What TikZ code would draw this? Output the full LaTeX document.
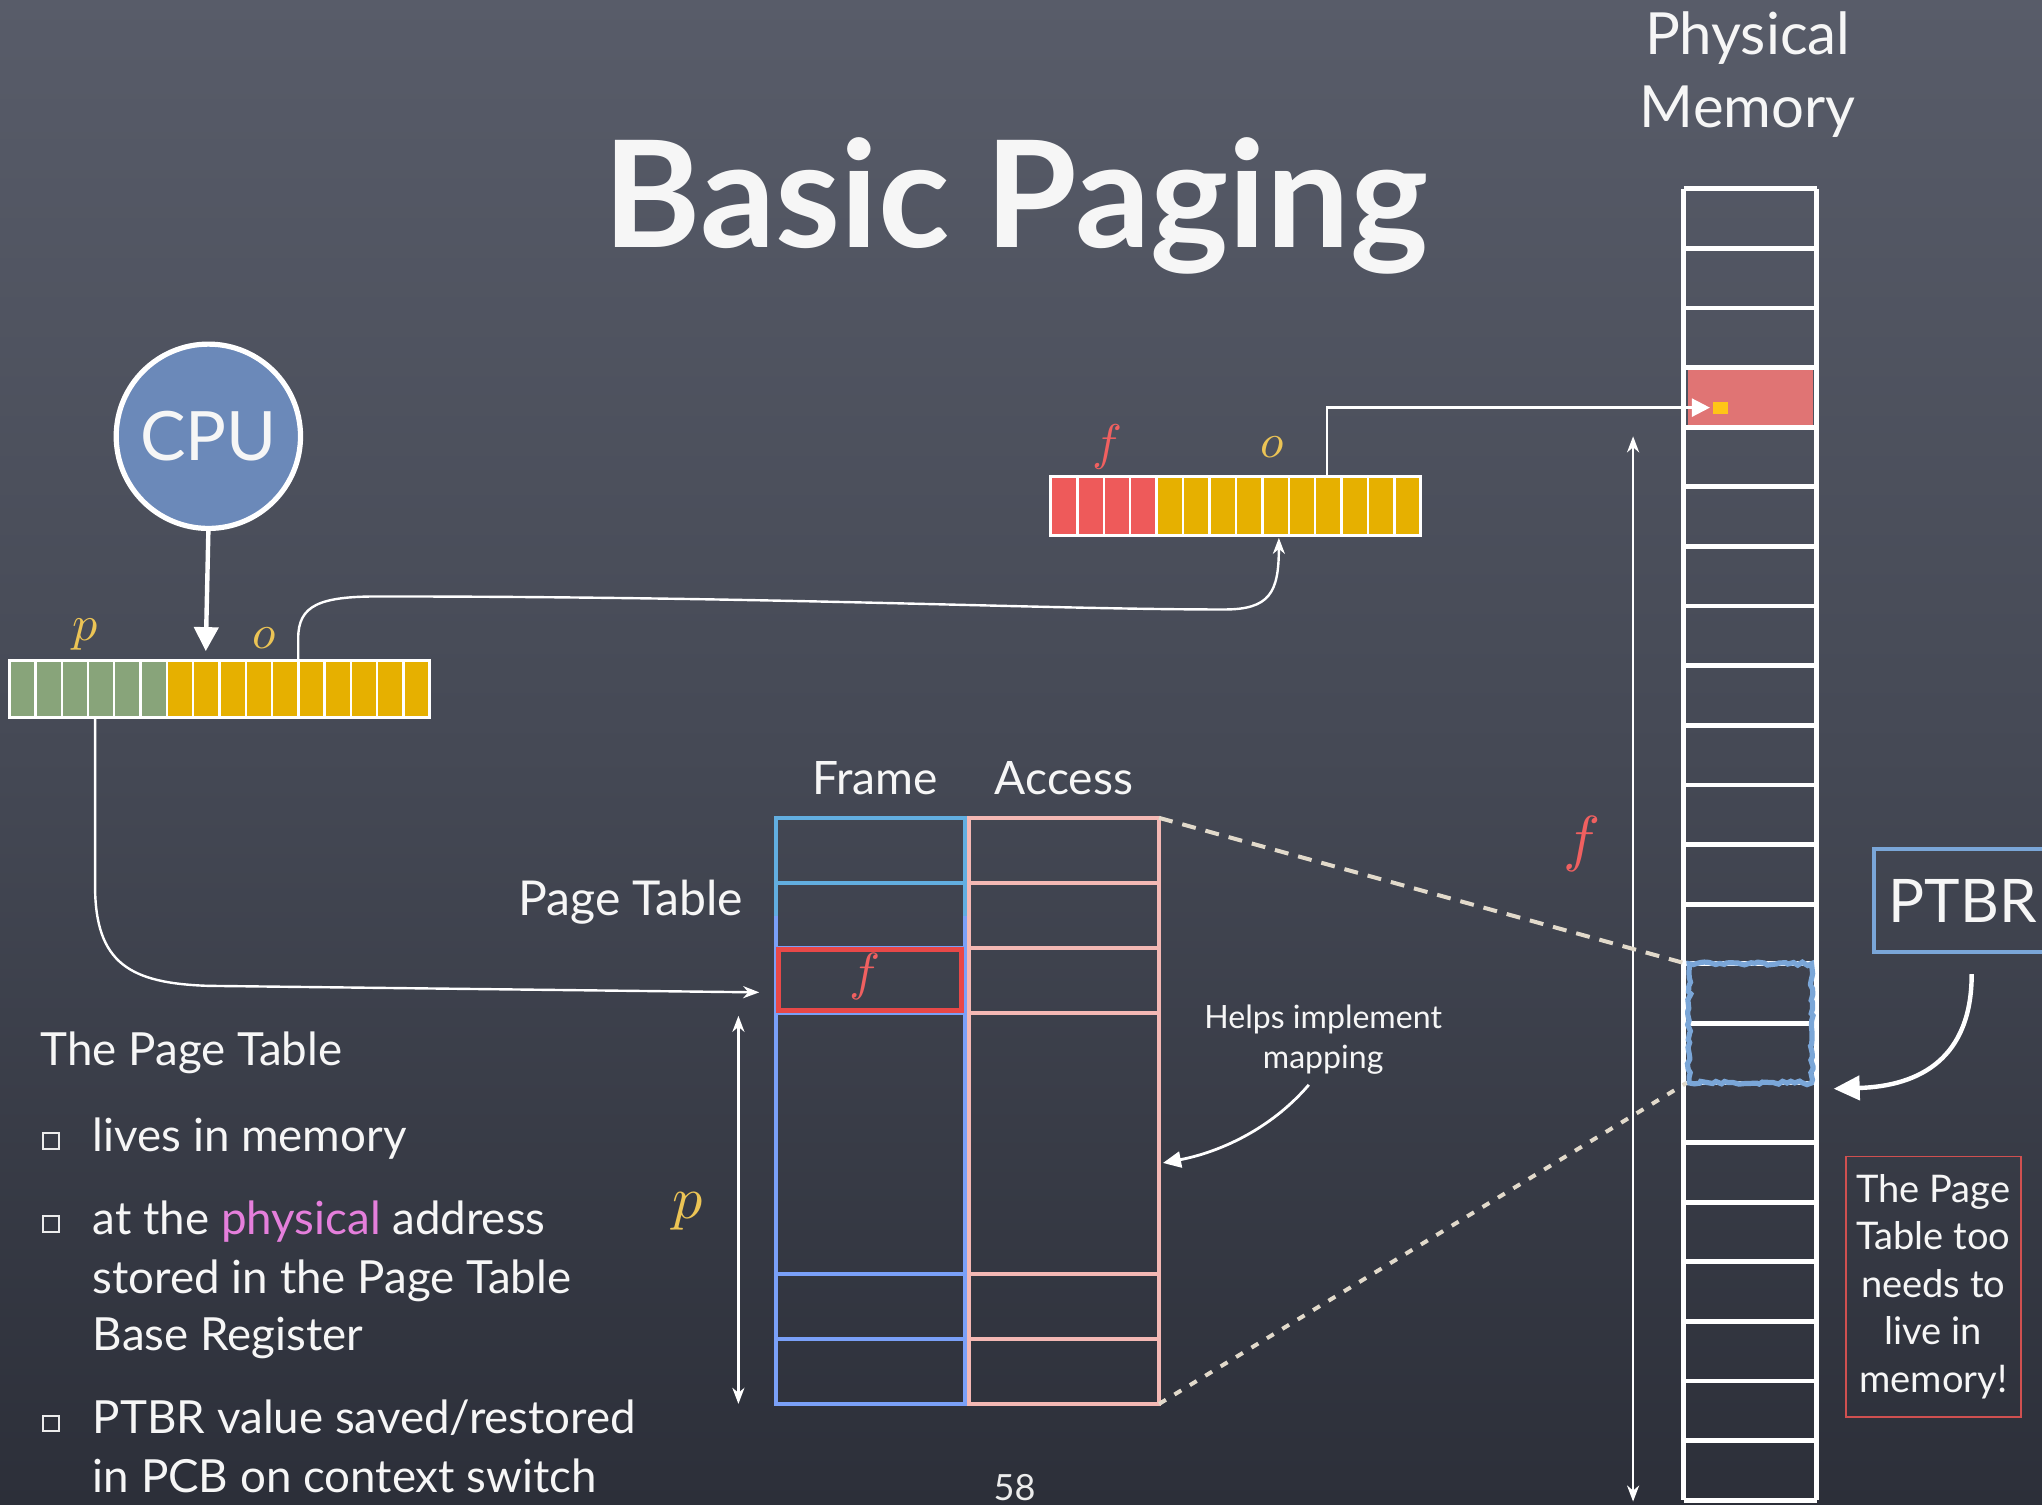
\documentclass[tikz,border=0pt]{standalone}
\usepackage{fontspec}
\setmainfont{Lato}
\usetikzlibrary{arrows.meta,decorations.pathmorphing,shadows,calc}

\definecolor{boardtop}{HTML}{585C69}
\definecolor{boardmid}{HTML}{454955}
\definecolor{boardbot}{HTML}{2C2F39}
\definecolor{cpublue}{HTML}{6B89B9}
\definecolor{bitgreen}{HTML}{88A47A}
\definecolor{bityellow}{HTML}{E6B000}
\definecolor{bitred}{HTML}{EE5A5A}
\definecolor{rowred}{HTML}{E07474}
\definecolor{dotyellow}{HTML}{FFC517}
\definecolor{mathyellow}{HTML}{ECC455}
\definecolor{mathred}{HTML}{F06060}
\definecolor{frameblue}{HTML}{62AEE0}
\definecolor{frameblue2}{HTML}{7AA0F8}
\definecolor{accesspink}{HTML}{F4B8B4}
\definecolor{ptbrblue}{HTML}{7AA6D8}
\definecolor{notered}{HTML}{D05050}
\definecolor{dashcream}{HTML}{E2DACB}
\definecolor{pinktext}{HTML}{E57FDC}
\definecolor{cellred}{HTML}{E84848}
\definecolor{chalkwhite}{HTML}{F6F6F6}

\begin{document}
\begin{tikzpicture}[x=0.65pt,y=-0.65pt,
  txt/.style={text=chalkwhite, inner sep=0pt},
  body/.style={txt, anchor=base west, font=\fontsize{22.8}{28}\selectfont},
  bitcell/.style={draw=white, line width=1.2pt},
  memline/.style={draw=white, line width=2.4pt},
  thinline/.style={draw=white, line width=1.2pt},
  thinarrow/.style={thinline, -{Stealth[length=8pt,width=6pt,inset=2.5pt]}},
  thindouble/.style={thinline, {Stealth[length=8pt,width=6pt,inset=2.5pt]}-{Stealth[length=8pt,width=6pt,inset=2.5pt]}},
  fatarrow/.style={draw=white, line width=2.2pt, -{Triangle[length=12pt,width=12pt]}},
  mathlbl/.style={inner sep=0pt},
  bulletbox/.style={draw=white!85!gray, line width=0.9pt},
  ptframe/.style={line width=2pt},
]

% chalkboard
\fill[top color=boardtop, bottom color=boardbot, middle color=boardmid] (0,0) rectangle (1568,1155);
\useasboundingbox (0,0) rectangle (1568,1155);

% title and memory caption
\node[txt, anchor=base, font=\fontsize{74}{74}\selectfont\bfseries] (title) at (780,190) {Basic Paging};
\node[txt, anchor=base, font=\fontsize{29}{29}\selectfont] (memcap1) at (1342,42) {Physical};
\node[txt, anchor=base, font=\fontsize{29}{29}\selectfont] (memcap2) at (1342,98) {Memory};

% physical memory column
\def\rowh{45.77}
\fill[rowred] (1296,{145+3*\rowh+2}) rectangle (1392,{145+4*\rowh-2});
\foreach \k in {0,...,22}{
  \draw[memline] (1293,{145+\k*\rowh}) -- (1395,{145+\k*\rowh});
}
\draw[memline] (1293,145) -- (1293,{145+22*\rowh});
\draw[memline] (1395,145) -- (1395,{145+22*\rowh});
\coordinate (frametarget) at (1313,313);
\coordinate (ptbase-nw) at (1295,{145+13*\rowh});
\coordinate (ptbase-sw) at (1295,{145+15*\rowh});
\coordinate (ptbase-e) at (1408,836);

% page table copy held in memory
\draw[ptbrblue, line width=2.6pt, decorate, decoration={random steps, segment length=2.2pt, amplitude=0.9pt}]
  (1297,{145+13*\rowh}) rectangle (1391,{145+15*\rowh});

% CPU and virtual address
\node[circle, fill=cpublue, draw=white, line width=2.6pt, minimum size=92pt, inner sep=0pt,
      text=chalkwhite, font=\fontsize{34}{34}\selectfont] (cpu) at (160,335) {CPU};
\coordinate (vin) at (158,500);
\draw[fatarrow] (cpu.south) -- (vin);

\foreach \i in {0,...,15}{
  \ifnum\i<6 \def\bc{bitgreen}\else\def\bc{bityellow}\fi
  \filldraw[bitcell, fill=\bc] ({7+\i*20.19},507) rectangle ({7+(\i+1)*20.19},551);
}
\draw[white, line width=1.5pt] (7,507) rectangle (330,551);
\node[mathlbl, text=mathyellow, scale=2.5] (lp) at (65,487) {$p$};
\node[mathlbl, text=mathyellow, scale=2.4] (lo) at (203,490) {$o$};
\coordinate (vo) at (229,507);
\coordinate (vp) at (73,551);

% physical address
\foreach \i in {0,...,13}{
  \ifnum\i<4 \def\bc{bitred}\else\def\bc{bityellow}\fi
  \filldraw[bitcell, fill=\bc] ({807+\i*20.29},366) rectangle ({807+(\i+1)*20.29},411);
}
\draw[white, line width=1.5pt] (807,366) rectangle (1091,411);
\node[mathlbl, text=mathred, scale=2.5] (lf) at (850,343) {$f$};
\node[mathlbl, text=mathyellow, scale=2.4] (lo2) at (977,343) {$o$};
\coordinate (pin) at (982,413);
\coordinate (pout) at (1019,366);

% offset copied into the physical address
\draw[thinarrow] (vo) -- (229,490) .. controls (229,465) and (245,458) .. (290,458)
  .. controls (600,458) and (800,468) .. (940,468) .. controls (975,468) and (982,455) .. (pin);

% physical address selects a frame
\draw[thinline, -{Triangle[length=9pt,width=9pt]}] (pout) |- (frametarget);
\fill[dotyellow, drop shadow={opacity=0.35, shadow xshift=0pt, shadow yshift=0pt}] (1315,309) rectangle (1327,318);

% frame range arrow
\draw[thindouble] (1254,335) -- (1254,1153);
\node[mathlbl, text=mathred, scale=3.1] (bigf) at (1215,648) {$f$};

% page table
\coordinate (pt-nw) at (596,628);
\coordinate (pt-ne) at (890,628);
\coordinate (pt-se) at (890,1078);
\coordinate (pt-w) at (583,762);
\coordinate (pt-e) at (893,893);
% frame column
\draw[ptframe, frameblue2] (596,703) -- (596,1078) -- (741,1078) -- (741,703);
\foreach \yy in {728,778,978,1028}{ \draw[ptframe, frameblue2] (596,\yy) -- (741,\yy); }
\draw[ptframe, frameblue] (596,703) -- (596,628) -- (741,628) -- (741,703);
\draw[ptframe, frameblue] (596,678) -- (741,678);
% access column
\draw[ptframe, accesspink] (744,628) rectangle (890,1078);
\foreach \yy in {678,728,778,978,1028}{ \draw[ptframe, accesspink] (744,\yy) -- (890,\yy); }
% selected entry
\draw[cellred, line width=2.4pt] (598,729) rectangle (738,776);
\node[mathlbl, text=mathred, scale=2.6] (cellf) at (664,750) {$f$};

\node[txt, anchor=base, font=\fontsize{23}{23}\selectfont] (hframe) at (672,610) {Frame};
\node[txt, anchor=base, font=\fontsize{23}{23}\selectfont] (haccess) at (817,610) {Access};
\node[txt, anchor=east, font=\fontsize{24}{24}\selectfont] (ptname) at (571,693) {Page Table};

% page number lookup
\draw[thinarrow] (vp) -- (73,680) .. controls (73,740) and (100,755) .. (160,757) -- (pt-w);
\draw[thindouble] (567,780) -- (567,1078);
\node[mathlbl, text=mathyellow, scale=3] (lp2) at (528,930) {$p$};

% where the table lives
\draw[dashcream, line width=2pt, dash pattern=on 7pt off 5pt] (pt-ne) -- (ptbase-nw);
\draw[dashcream, line width=2pt, dash pattern=on 4pt off 5pt] (pt-se) -- (ptbase-sw);

% note on mapping
\node[txt, align=center, font=\fontsize{16}{20}\selectfont] (helps) at (1016,798) {Helps implement\\mapping};
\draw[draw=white, line width=1.4pt, -{Triangle[length=9pt,width=8pt]}] (1005,833) .. controls (975,868) and (935,885) .. (pt-e);

% base register
\node[draw=ptbrblue, line width=2pt, minimum width=88pt, minimum height=51pt, inner sep=0pt,
      text=chalkwhite, font=\fontsize{30}{30}\selectfont] (ptbr) at (1507,691.5) {PTBR};
\coordinate (ptbrout) at (1514,748);
\draw[draw=white, line width=2.2pt, -{Triangle[length=13pt,width=12pt]}] (ptbrout) .. controls (1514,812) and (1475,834) .. (ptbase-e);

\node[draw=notered, line width=0.9pt, minimum width=87.5pt, minimum height=130pt, inner sep=0pt,
      align=center, text=chalkwhite, font=\fontsize{19}{23.7}\selectfont] (note) at (1484.5,988)
      {The Page\\Table too\\needs to\\live in\\memory!};

% summary text
\node[body] (s0) at (31,818) {The Page Table};
\node[body] (s1) at (71,884) {lives in memory};
\node[body] (s2) at (71,948) {at the \textcolor{pinktext}{physical} address};
\node[body] (s3) at (71,993) {stored in the Page Table};
\node[body] (s4) at (71,1037) {Base Register};
\node[body] (s5) at (71,1101) {PTBR value saved/restored};
\node[body] (s6) at (71,1146) {in PCB on context switch};
\foreach \yy in {884,948,1101}{ \draw[bulletbox] (33,\yy-14) rectangle (45,\yy-2); }

\node[txt, anchor=base, text=white!85!gray, font=\fontsize{18}{18}\selectfont] (pageno) at (779,1152) {58};

\end{tikzpicture}
\end{document}
